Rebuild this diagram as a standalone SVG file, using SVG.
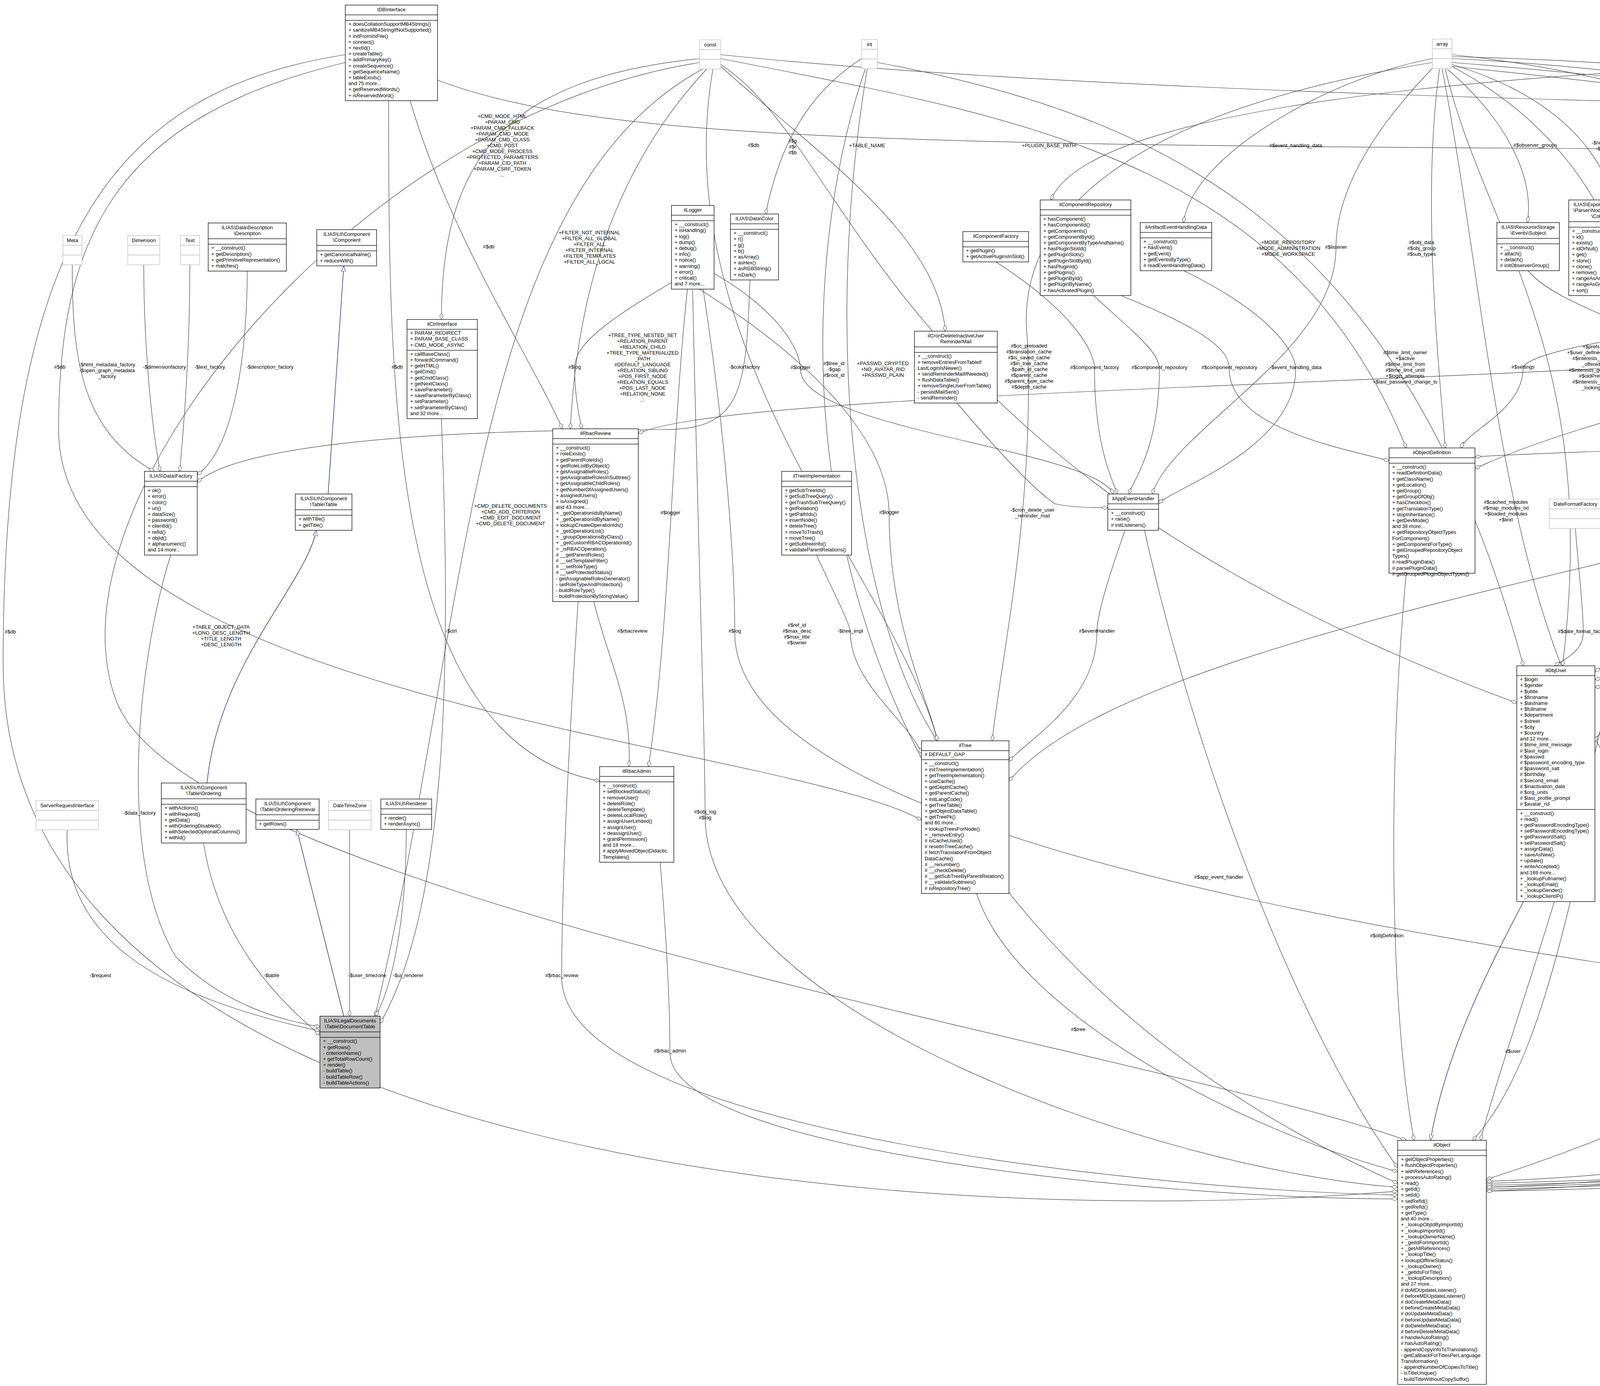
<svg xmlns="http://www.w3.org/2000/svg" width="7887" height="3549" viewBox="0 0 7887 3549">
<style>
text{font-family:"Liberation Sans",Arial,sans-serif;font-size:13px;fill:#000}
.t{text-anchor:middle}
.l{text-anchor:middle}
.b{fill:#fff;stroke:#000;stroke-width:1.3}
.g{fill:#fff;stroke:#bfbfbf;stroke-width:1.3}
.s{fill:none;stroke:#000;stroke-width:1.3}
.sg{fill:none;stroke:#bfbfbf;stroke-width:1.3}
.e{fill:none;stroke:#404040;stroke-width:1.2;marker-end:url(#dia)}
.i{fill:none;stroke:#191970;stroke-width:1.3;marker-end:url(#tri)}
</style>
<defs>
<marker id="dia" viewBox="0 0 16 10" refX="16" refY="5" markerWidth="16" markerHeight="10" markerUnits="userSpaceOnUse" orient="auto"><path d="M0,5 L8,0.5 L16,5 L8,9.5 Z" fill="#fff" stroke="#404040"/></marker>
<marker id="tri" viewBox="0 0 14 12" refX="14" refY="6" markerWidth="14" markerHeight="12" markerUnits="userSpaceOnUse" orient="auto"><path d="M0,0.5 L14,6 L0,11.5 Z" fill="#fff" stroke="#191970"/></marker>
</defs>
<rect width="7887" height="3549" fill="#fff"/>

<g id="edges">
<path class="e" d="M884,140 C300,230 8,600 8,1700 C8,3000 2400,3150 3578,3050"/>
<text x="12" y="1622">#$db</text>
<path class="e" d="M884,160 C300,300 150,600 150,1100 C150,1800 2000,1900 2359,2100"/>
<text class="l" x="153" y="944">#$db</text>
<path class="e" d="M1050,258 C1150,600 1350,900 1440,1098"/>
<text class="l" x="1251" y="636">#$db</text>
<path class="e" d="M995,258 C995,1000 995,1900 1535,2000"/>
<text class="l" x="1017" y="944">#$db</text>
<path class="e" d="M1120,205 C1500,350 2200,370 4000,380 C4600,385 4800,420 4850,505"/>
<text class="l" x="1929" y="376">#$db</text>

<path class="e" d="M1791,150 C1300,200 1130,400 1130,818"/>
<text class="l" x="1286" y="302"><tspan x="1286" dy="0">+CMD_MODE_HTML</tspan><tspan x="1286" dy="15">+PARAM_CMD</tspan><tspan x="1286" dy="15">+PARAM_CMD_FALLBACK</tspan><tspan x="1286" dy="15">+PARAM_CMD_MODE</tspan><tspan x="1286" dy="15">+PARAM_CMD_CLASS</tspan><tspan x="1286" dy="15">+CMD_POST</tspan><tspan x="1286" dy="15">+CMD_MODE_PROCESS</tspan><tspan x="1286" dy="15">+PROTECTED_PARAMETERS</tspan><tspan x="1286" dy="15">+PARAM_CID_PATH</tspan><tspan x="1286" dy="15">+PARAM_CSRF_TOKEN</tspan><tspan x="1286" dy="15">...</tspan></text>
<path class="e" d="M1810,176 C1600,400 1480,700 1460,1098"/>
<text class="l" x="1509" y="600"><tspan x="1509" dy="0">+FILTER_NOT_INTERNAL</tspan><tspan x="1509" dy="15">+FILTER_ALL_GLOBAL</tspan><tspan x="1509" dy="15">+FILTER_ALL</tspan><tspan x="1509" dy="15">+FILTER_INTERNAL</tspan><tspan x="1509" dy="15">+FILTER_TEMPLATES</tspan><tspan x="1509" dy="15">+FILTER_ALL_LOCAL</tspan></text>
<path class="e" d="M1825,176 C1700,900 2300,1500 2400,1897"/>
<text class="l" x="1645" y="863"><tspan x="1645" dy="0">+TREE_TYPE_NESTED_SET</tspan><tspan x="1645" dy="15">+RELATION_PARENT</tspan><tspan x="1645" dy="15">+RELATION_CHILD</tspan><tspan x="1645" dy="15">+TREE_TYPE_MATERIALIZED</tspan><tspan x="1645" dy="15">_PATH</tspan><tspan x="1645" dy="15">#DEFAULT_LANGUAGE</tspan><tspan x="1645" dy="15">+RELATION_SIBLING</tspan><tspan x="1645" dy="15">+POS_FIRST_NODE</tspan><tspan x="1645" dy="15">+RELATION_EQUALS</tspan><tspan x="1645" dy="15">+POS_LAST_NODE</tspan><tspan x="1645" dy="15">+RELATION_NONE</tspan><tspan x="1645" dy="15">...</tspan></text>
<path class="e" d="M1800,176 C1200,500 1200,1600 960,2602"/>
<text class="l" x="1307" y="1300"><tspan x="1307" dy="0">+CMD_DELETE_DOCUMENTS</tspan><tspan x="1307" dy="15">+CMD_ADD_CRITERION</tspan><tspan x="1307" dy="15">+CMD_EDIT_DOCUMENT</tspan><tspan x="1307" dy="15">+CMD_DELETE_DOCUMENT</tspan></text>
<path class="e" d="M1791,160 C900,300 100,1300 300,1800 C500,2300 3000,2700 3600,2920"/>
<text class="l" x="566" y="1610"><tspan x="566" dy="0">+TABLE_OBJECT_DATA</tspan><tspan x="566" dy="15">+LONG_DESC_LENGTH</tspan><tspan x="566" dy="15">+TITLE_LENGTH</tspan><tspan x="566" dy="15">+DESC_LENGTH</tspan></text>
<path class="e" d="M1845,165 C2200,400 2250,1200 3883,1800"/>
<text class="l" x="2260" y="935"><tspan x="2260" dy="0">+PASSWD_CRYPTED</tspan><tspan x="2260" dy="15">+NO_AVATAR_RID</tspan><tspan x="2260" dy="15">+PASSWD_PLAIN</tspan></text>
<path class="e" d="M1845,150 C2600,300 3300,400 3600,1147"/>
<text class="l" x="3298" y="625"><tspan x="3298" dy="0">+MODE_REPOSITORY</tspan><tspan x="3298" dy="15">+MODE_ADMINISTRATION</tspan><tspan x="3298" dy="15">+MODE_WORKSPACE</tspan></text>
<path class="e" d="M1845,140 C3000,260 5000,270 5700,300 C6100,320 6200,400 6230,482"/>
<text class="l" x="5792" y="365"><tspan x="5792" dy="0">+$MESSAGE</tspan><tspan x="5792" dy="15">+$FATAL</tspan><tspan x="5792" dy="15">+$WARNING</tspan></text>
<path class="e" d="M1845,170 C2100,400 2400,600 2420,848"/>
<text class="l" x="2220" y="377">+TABLE_NAME</text>

<path class="e" d="M2206,150 C2050,250 1990,400 1960,548"/>
<text class="l" x="2029" y="365"><tspan x="2029" dy="0">#$g</tspan><tspan x="2029" dy="15">#$r</tspan><tspan x="2029" dy="15">#$b</tspan></text>
<path class="e" d="M2220,177 C2100,900 2200,1600 2400,1897"/>
<text class="l" x="2135" y="935"><tspan x="2135" dy="0">#$tree_id</tspan><tspan x="2135" dy="15">-$gap</tspan><tspan x="2135" dy="15">#$root_id</tspan></text>
<path class="e" d="M2215,177 C2000,800 1950,2300 3578,3030"/>
<text class="l" x="2040" y="1605"><tspan x="2040" dy="0">#$ref_id</tspan><tspan x="2040" dy="15">#$max_desc</tspan><tspan x="2040" dy="15">#$max_title</tspan><tspan x="2040" dy="15">#$owner</tspan></text>
<path class="e" d="M2246,160 C3000,300 3600,600 3900,1705"/>
<text class="l" x="3597" y="907"><tspan x="3597" dy="0">#$time_limit_owner</tspan><tspan x="3597" dy="15">+$active</tspan><tspan x="3597" dy="15">#$time_limit_from</tspan><tspan x="3597" dy="15">#$time_limit_until</tspan><tspan x="3597" dy="15">+$login_attempts</tspan><tspan x="3597" dy="15">+$last_password_change_ts</tspan></text>

<path class="e" d="M5828,130 C4000,150 2800,250 2690,512"/>
<text class="l" x="2685" y="377">+PLUGIN_BASE_PATH</text>

<path class="e" d="M3667,150 C3400,200 3050,400 3030,570"/>
<text class="l" x="3317" y="377">#$event_handling_data</text>
<path class="e" d="M3685,177 C3640,500 3680,900 3700,1147"/>
<text class="l" x="3639" y="625"><tspan x="3639" dy="0">#$obj_data</tspan><tspan x="3639" dy="15">#$obj_group</tspan><tspan x="3639" dy="15">#$sub_types</tspan></text>
<path class="e" d="M3705,177 C3850,300 3930,450 3910,570"/>
<text class="l" x="3930" y="376">#$observer_groups</text>
<path class="e" d="M3717,165 C4000,250 4100,400 4130,512"/>
<text class="l" x="4109" y="370"><tspan x="4109" dy="0">-$rid_cache</tspan><tspan x="4109" dy="15">-$cache</tspan></text>
<path class="e" d="M3717,140 C4300,200 4700,400 4860,505"/>
<text class="l" x="4808" y="376">+$setting</text>
<path class="e" d="M3667,160 C2800,300 2600,600 2630,870 C2650,1300 2560,1700 2540,1897"/>
<text class="l" x="2634" y="890"><tspan x="2634" dy="0">#$oc_preloaded</tspan><tspan x="2634" dy="15">#$translation_cache</tspan><tspan x="2634" dy="15">#$is_saved_cache</tspan><tspan x="2634" dy="15">#$in_tree_cache</tspan><tspan x="2634" dy="15">-$path_id_cache</tspan><tspan x="2634" dy="15">#$parent_cache</tspan><tspan x="2634" dy="15">#$parent_type_cache</tspan><tspan x="2634" dy="15">#$depth_cache</tspan></text>
<path class="e" d="M3700,177 C3800,600 4100,900 4000,1705"/>
<text class="l" x="4073" y="892"><tspan x="4073" dy="0">+$prefs</tspan><tspan x="4073" dy="15">+$user_defined_data</tspan><tspan x="4073" dy="15">#$interests_help</tspan><tspan x="4073" dy="15">_offered</tspan><tspan x="4073" dy="15">#$interests_general</tspan><tspan x="4073" dy="15">#$oldPrefs</tspan><tspan x="4073" dy="15">#$interests_help</tspan><tspan x="4073" dy="15">_looking</tspan></text>
<path class="e" d="M3692,177 C3850,1000 3850,2000 4500,2300 C5200,2600 5800,2650 6064,2650"/>
<text class="l" x="3855" y="1290"><tspan x="3855" dy="0">#$cached_modules</tspan><tspan x="3855" dy="15">#$map_modules_txt</tspan><tspan x="3855" dy="15">+$loaded_modules</tspan><tspan x="3855" dy="15">+$text</tspan></text>
<path class="e" d="M5828,150 C5600,250 5000,300 4990,520"/>
<text class="l" x="5604" y="370"><tspan x="5604" dy="0">-$settings_cache</tspan><tspan x="5604" dy="15">-$value_type</tspan></text>
<path class="e" d="M5835,177 C5200,300 5000,350 4960,505"/>
<text class="l" x="4993" y="376">+$module</text>
<path class="e" d="M3717,170 C5000,300 5700,450 5718,700 C5720,1000 2000,950 1634,1110"/>
<text class="l" x="5718" y="630"><tspan x="5718" dy="0">#$is_assigned_cache</tspan><tspan x="5718" dy="15">-$_opsCache</tspan><tspan x="5718" dy="15">#$assigned_users_cache</tspan></text>
<path class="e" d="M3717,160 C5500,300 6060,600 6068,945 C6075,1300 4500,1700 4083,1760"/>
<text class="l" x="6068" y="945">#$personal_image_cache</text>
<path class="e" d="M3717,150 C5800,250 6300,1200 6343,1621 C6360,1800 6400,1900 6420,1941"/>
<text class="l" x="6343" y="1621">#$language_cache</text>
<path class="e" d="M3717,145 C6000,200 6500,900 6521,1305 C6540,1900 6300,2300 6230,2533"/>
<text class="l" x="6521" y="1295"><tspan x="6521" dy="0">#$lng_log</tspan><tspan x="6521" dy="15">#$used_modules</tspan><tspan x="6521" dy="15">#$used_topics</tspan></text>
<path class="e" d="M3717,170 C4150,400 4200,800 4203,944 C4210,1800 3900,2500 3790,2920"/>
<text class="l" x="4203" y="944">#$translations</text>
<path class="e" d="M3667,175 C3450,400 3420,550 3420,637 C3420,900 3000,1100 2950,1265"/>
<text class="l" x="3420" y="637">#$listener</text>

<path class="e" d="M5828,140 C5300,200 5285,300 5285,377 C5285,460 6000,470 6215,560"/>
<text class="l" x="5285" y="370"><tspan x="5285" dy="0">-SENSITIVE_PARAMETER</tspan><tspan x="5285" dy="15">_NAMES</tspan></text>
<path class="e" d="M5862,160 C6100,250 6206,330 6235,482"/>
<text class="l" x="6206" y="377">#$message</text>
<path class="e" d="M5828,160 C5200,300 5100,500 5098,637 C5095,900 4200,1000 3776,1200"/>
<text class="l" x="5098" y="625"><tspan x="5098" dy="0">#$parent_tag_name</tspan><tspan x="5098" dy="15">#$current_tag_name</tspan><tspan x="5098" dy="15">#$current_tag</tspan><tspan x="5098" dy="15">#$root_trans_type</tspan></text>
<path class="e" d="M5850,177 C6000,400 6022,550 6022,637 C6020,900 6000,1100 6000,1198"/>
<text class="l" x="6022" y="630"><tspan x="6022" dy="0">+$INI_FILE</tspan><tspan x="6022" dy="15">+$client_id</tspan></text>
<path class="e" d="M5835,177 C5600,500 5571,750 5571,880 C5570,1300 3000,1500 2583,2000"/>
<text class="l" x="5571" y="890"><tspan x="5571" dy="0">#$table_obj_data</tspan><tspan x="5571" dy="15">#$tree_pk</tspan><tspan x="5571" dy="15">#$table_obj_reference</tspan><tspan x="5571" dy="15">-$lang_code</tspan><tspan x="5571" dy="15">#$obj_pk</tspan><tspan x="5571" dy="15">#$ref_pk</tspan><tspan x="5571" dy="15">#$table_tree</tspan></text>
<path class="e" d="M5840,177 C5720,500 5718,700 5718,830 C5720,1200 4400,1500 4083,1720"/>
<text class="l" x="5718" y="870"><tspan x="5718" dy="0">#$ext_account</tspan><tspan x="5718" dy="15">+$email</tspan><tspan x="5718" dy="15">+$phone_office</tspan><tspan x="5718" dy="15">+$institution</tspan><tspan x="5718" dy="15">#$first_login</tspan><tspan x="5718" dy="15">+$longitude</tspan><tspan x="5718" dy="15">+$hobby</tspan><tspan x="5718" dy="15">+$zipcode</tspan><tspan x="5718" dy="15">#$passwd_type</tspan><tspan x="5718" dy="15">+$referral_comment</tspan><tspan x="5718" dy="15">...</tspan></text>
<path class="e" d="M5855,177 C6150,500 6213,800 6213,945 C6213,1400 6420,1700 6440,1941"/>
<text class="l" x="6213" y="945">#$language_key</text>
<path class="e" d="M5862,170 C6200,600 6260,1000 6260,1260 C6260,1900 6180,2300 6160,2533"/>
<text class="l" x="6260" y="1262"><tspan x="6260" dy="0">+$lang_name</tspan><tspan x="6260" dy="15">+$lang_user</tspan><tspan x="6260" dy="15">+$lang_path</tspan><tspan x="6260" dy="15">#$cust_lang_path</tspan><tspan x="6260" dy="15">+$separator</tspan><tspan x="6260" dy="15">+$comment_separator</tspan><tspan x="6260" dy="15">+$lang_key</tspan><tspan x="6260" dy="15">+$lang_default</tspan></text>
<path class="e" d="M5845,177 C5700,800 5663,1300 5663,1600 C5663,2200 4500,2800 3805,3020"/>
<text class="l" x="5663" y="1570"><tspan x="5663" dy="0">#$create_date</tspan><tspan x="5663" dy="15">#$desc</tspan><tspan x="5663" dy="15">#$title</tspan><tspan x="5663" dy="15">#$long_desc</tspan><tspan x="5663" dy="15">#$import_id</tspan><tspan x="5663" dy="15">+$untranslated_title</tspan><tspan x="5663" dy="15">#$type</tspan><tspan x="5663" dy="15">#$last_update</tspan></text>

<path class="e" d="M6207,170 C6700,400 6758,700 6758,945 C6758,1400 6600,1800 6540,1960"/>
<text class="l" x="6758" y="945">#$instances</text>
<path class="e" d="M6782,170 C6300,250 6053,300 6053,377 C6053,460 5200,480 4993,520"/>
<text class="l" x="6053" y="377">#$cache_disabled</text>
<path class="e" d="M6468,177 C6480,300 6450,420 6421,520"/>
<text class="l" x="6506" y="377">#$whoops</text>
<path class="e" d="M6782,165 C6500,250 6380,330 6370,482"/>
<text class="l" x="6368" y="377">#$whoops_handlers_registered</text>
<path class="e" d="M6790,177 C6700,300 6500,450 6421,500"/>
<text class="l" x="6672" y="377">#$DEBUG_ENV</text>
<path class="e" d="M6800,177 C6650,600 6629,800 6629,945 C6629,1400 4500,1650 4083,1740"/>
<text class="l" x="6629" y="930"><tspan x="6629" dy="0">#$profile_incomplete</tspan><tspan x="6629" dy="15">#$passwd_policy_reset</tspan><tspan x="6629" dy="15">#$time_limit_unlimited</tspan><tspan x="6629" dy="15">-$is_self_registered</tspan></text>
<path class="e" d="M6790,177 C6500,600 6458,800 6458,945 C6458,1100 4000,1150 3776,1170"/>
<text class="l" x="6458" y="945">#$use_cache</text>
<path class="e" d="M6815,177 C6850,500 6859,800 6859,945 C6859,1600 6600,1900 6540,2000"/>
<text class="l" x="6859" y="945">#$loaded</text>
<path class="e" d="M6827,177 C6950,700 6970,1100 6970,1316 C6970,2000 6500,2500 6245,2700"/>
<text class="l" x="6970" y="1316">#$usage_log_enabled</text>
<path class="e" d="M6827,165 C7150,700 7181,1300 7181,1620 C7181,2600 5000,3000 3805,3040"/>
<text class="l" x="7181" y="1600"><tspan x="7181" dy="0">#$register</tspan><tspan x="7181" dy="15">#$call_by_reference</tspan><tspan x="7181" dy="15">-$process_auto_rating</tspan><tspan x="7181" dy="15">#$add_dots</tspan></text>

<path class="e" d="M4850,765 C4200,850 3900,900 3899,944 C3898,1050 3760,1100 3740,1147"/>
<text class="l" x="3899" y="944">#$settings</text>
<path class="e" d="M4993,700 C5700,750 5876,850 5876,945 C5876,1100 5960,1150 5980,1198"/>
<text class="l" x="5876" y="945">#$setting</text>
<path class="e" d="M6320,788 C6330,850 6333,900 6333,945 C6333,1050 6100,1150 6092,1250"/>
<text class="l" x="6333" y="945">#$error</text>
<path class="e" d="M6421,700 C6900,900 7016,1500 7016,2087 C7016,2700 5000,3000 3805,3050"/>
<text class="l" x="7016" y="2087">#$error</text>

<path class="e" d="M3912,693 C4000,800 4305,850 4305,944 C4305,1100 4460,1200 4470,1220"/>
<text class="l" x="4305" y="944">#$events</text>
<path class="e" d="M4107,757 C4300,850 4402,880 4402,944 C4402,1100 4480,1200 4485,1220"/>
<text class="l" x="4402" y="944">#$collections</text>
<path class="e" d="M4303,740 C4480,800 4518,880 4518,944 C4518,1100 4520,1200 4520,1220"/>
<text class="l" x="4518" y="944">#$consumers</text>
<path class="e" d="M4489,678 C4600,800 4611,880 4611,944 C4611,1100 4570,1200 4560,1220"/>
<text class="l" x="4611" y="944">#$manager</text>
<path class="e" d="M4703,717 C4740,800 4758,880 4758,944 C4758,1100 4620,1200 4600,1220"/>
<text class="l" x="4758" y="944">#$container_manager</text>
<path class="e" d="M5285,670 C5200,780 5170,880 5170,944 C5170,1150 4700,1250 4615,1260"/>
<text class="l" x="5170" y="944">#$preloader</text>
<path class="e" d="M5490,711 C5440,800 5429,880 5429,945 C5429,1200 4700,1300 4615,1290"/>
<text class="l" x="5429" y="945">#$flavours</text>
<path class="e" d="M4480,1404 C4420,1500 4376,1560 4376,1621 C4376,1700 4120,1800 4083,1900"/>
<text class="l" x="4376" y="1621">-$irss</text>
<path class="e" d="M4033,1353 C4040,1450 4053,1550 4053,1621 C4053,1670 4000,1690 3980,1705"/>
<text class="l" x="4053" y="1621">#$date_format_factory</text>

<path class="e" d="M185,678 C185,900 200,1100 395,1207"/>
<text class="l" x="274" y="938"><tspan x="274" dy="0">-$html_metadata_factory</tspan><tspan x="274" dy="15">-$open_graph_metadata</tspan><tspan x="274" dy="15">_factory</tspan></text>
<path class="e" d="M368,678 C368,900 390,1100 410,1207"/>
<text class="l" x="421" y="944">-$dimensionfactory</text>
<path class="e" d="M486,678 C486,900 470,1100 460,1207"/>
<text class="l" x="537" y="944">-$text_factory</text>
<path class="e" d="M633,694 C633,900 600,1150 505,1215"/>
<text class="l" x="691" y="944">-$description_factory</text>
<path class="e" d="M1920,717 C1910,1000 1900,1100 1700,1100 C1000,1100 600,1150 505,1235"/>
<text class="l" x="1906" y="944">-$colorfactory</text>

<path class="e" d="M172,2125 C160,2400 400,2550 819,2640"/>
<text class="l" x="257" y="2502">-$request</text>
<path class="e" d="M521,2159 C560,2400 700,2550 819,2650"/>
<text class="l" x="695" y="2502">-$table</text>
<path class="e" d="M895,2125 L895,2602"/>
<text class="l" x="940" y="2502">-$user_timezone</text>
<path class="e" d="M1040,2124 C1040,2400 990,2560 960,2602"/>
<text class="l" x="1045" y="2502">-$ui_renderer</text>
<path class="e" d="M437,1421 C350,1700 300,2200 450,2450 C600,2600 780,2620 819,2630"/>
<text class="l" x="357" y="2086">-$data_factory</text>
<path class="e" d="M1130,1072 C1150,1600 1160,2300 973,2620"/>
<text class="l" x="1155" y="1620">-$ctrl</text>

<path class="e" d="M1520,1540 C1560,1700 1619,1800 1610,1963"/>
<text class="l" x="1619" y="1620">#$rbacreview</text>
<path class="e" d="M1760,740 C1720,1100 1716,1600 1660,1963"/>
<text class="l" x="1716" y="1317">#$logger</text>
<path class="e" d="M1725,720 C1500,850 1471,900 1471,944 C1471,1000 1480,1060 1490,1098"/>
<text class="l" x="1471" y="944">#$log</text>
<path class="e" d="M1790,740 C2200,1000 2276,1200 2276,1316 C2276,1600 2380,1800 2400,1897"/>
<text class="l" x="2276" y="1316">#$logger</text>
<path class="e" d="M1828,700 C2000,800 2049,900 2049,945 C2049,1100 2800,1150 2850,1265"/>
<text class="l" x="2049" y="945">#$logger</text>
<path class="e" d="M1773,740 C1790,1500 1805,1900 1805,2089 C1805,2600 3000,3000 3578,3040"/>
<text class="l" x="1805" y="2083"><tspan x="1805" dy="0">#$obj_log</tspan><tspan x="1805" dy="15">#$log</tspan></text>
<path class="e" d="M1800,740 C1870,1200 1881,1500 1881,1620 C1881,2200 4000,2500 6064,2700"/>
<text class="l" x="1881" y="1620">#$log</text>
<path class="e" d="M2090,1421 C2150,1550 2177,1600 2177,1620 C2177,1750 2330,1850 2359,1930"/>
<text class="l" x="2177" y="1620">-$tree_impl</text>
<path class="e" d="M2880,1358 C2830,1500 2808,1580 2808,1620 C2808,1800 2620,1900 2583,1950"/>
<text class="l" x="2808" y="1620">#$eventHandler</text>
<path class="e" d="M2450,1032 C2550,1150 2643,1250 2700,1290 C2750,1300 2800,1300 2836,1300"/>
<text class="l" x="2643" y="1310"><tspan x="2643" dy="0">-$cron_delete_user</tspan><tspan x="2643" dy="15">_reminder_mail</tspan></text>
<path class="e" d="M2550,671 C2750,800 2802,900 2802,945 C2802,1150 2850,1230 2860,1265"/>
<text class="l" x="2802" y="945">#$component_factory</text>
<path class="e" d="M2800,757 C2900,850 2968,900 2968,945 C2968,1150 2900,1230 2890,1265"/>
<text class="l" x="2968" y="945">#$component_repository</text>
<path class="e" d="M2870,757 C3100,850 3147,900 3147,945 C3147,1100 3450,1150 3556,1180"/>
<text class="l" x="3147" y="945">#$component_repository</text>
<path class="e" d="M3030,693 C3250,800 3317,900 3317,945 C3317,1150 3000,1250 2966,1290"/>
<text class="l" x="3317" y="945">-$event_handling_data</text>

<path class="e" d="M1480,1540 C1450,2000 1438,2300 1438,2502 C1438,2900 3000,3050 3578,3060"/>
<text class="l" x="1438" y="2502">#$rbac_review</text>
<path class="e" d="M1690,2208 C1710,2450 1715,2600 1715,2695 C1715,2950 3000,3070 3578,3070"/>
<text class="l" x="1715" y="2695">#$rbac_admin</text>
<path class="e" d="M2500,2288 C2600,2600 3200,2900 3578,3000"/>
<text class="l" x="2760" y="2640">#$tree</text>
<path class="e" d="M2930,1358 C3050,1900 3300,2600 3578,2990"/>
<text class="l" x="3120" y="2250">#$app_event_handler</text>
<path class="e" d="M3600,1468 C3550,2000 3560,2600 3620,2920"/>
<text class="l" x="3550" y="2400">#$objDefinition</text>
<path class="e" d="M4020,2309 C3950,2600 3880,2800 3770,2920"/>
<text class="l" x="3873" y="2696">#$user</text>
<path class="e" d="M6064,2820 C5900,2900 5000,3000 3805,3030"/>
<text class="l" x="5940" y="2892">#$lng</text>
<path class="e" d="M5960,1437 C5910,1800 5910,2300 5910,2502 C5910,2800 4500,3000 3805,3025"/>
<text class="l" x="5910" y="2502">#$ilias</text>
<path class="e" d="M6060,1437 C6150,1700 6183,1950 6183,2088 C6183,2300 6170,2450 6160,2533"/>
<text class="l" x="6183" y="2088">+$ilias</text>
<path class="e" d="M6440,2231 C6380,2350 6364,2450 6364,2502 C6364,2530 6300,2580 6245,2600"/>
<text class="l" x="6364" y="2502">#$global_cache</text>
<path class="e" d="M7540,2823 C7500,2880 7462,2892 7400,2900 C6000,2950 4500,3030 3805,3045"/>
<text class="l" x="7462" y="2892">-$object_properties</text>
<path class="e" d="M7780,2746 C7750,2850 7700,2890 7600,2900 C6000,2960 4500,3040 3805,3050"/>
<text class="l" x="7695" y="2892">-$properties_aggregator</text>
<path class="e" d="M7200,2735 C7200,2850 7150,2890 7000,2900 C6000,2940 4500,3020 3805,3035"/>
<text class="l" x="7180" y="2892">-$translations_repository</text>
<path class="e" d="M7350,2735 C7340,2850 7300,2890 7200,2900 C6000,2945 4500,3025 3805,3040"/>
<text class="l" x="7340" y="2892">#$lom_services</text>

<path class="i" d="M4489,585 L4540,265"/>
<path class="i" d="M4680,548 L4610,265"/>
<path class="i" d="M4915,505 L4915,226"/>
<path class="i" d="M840,1265 L880,681"/>
<path class="i" d="M530,2005 C560,1700 780,1500 810,1358"/>
<path class="i" d="M880,2602 L760,2124"/>
<path class="i" d="M6500,1941 L6720,1359"/>
<path class="i" d="M6120,2533 L6030,2135"/>
<path class="i" d="M3900,2309 C3800,2500 3700,2700 3662,2920"/>
</g>

<g id="n_IDBInterface"><rect class="b" x="884" y="13" width="236" height="244.8"/><path class="s" d="M884,38.2 h236 M884,52.2 h236"/><text class="t" x="1002" y="29">IDBInterface</text><text x="892" y="66.2"><tspan x="892" dy="0">+ doesCollationSupportMB4Strings()</tspan><tspan x="892" dy="15.2">+ sanitizeMB4StringIfNotSupported()</tspan><tspan x="892" dy="15.2">+ initFromIniFile()</tspan><tspan x="892" dy="15.2">+ connect()</tspan><tspan x="892" dy="15.2">+ nextId()</tspan><tspan x="892" dy="15.2">+ createTable()</tspan><tspan x="892" dy="15.2">+ addPrimaryKey()</tspan><tspan x="892" dy="15.2">+ createSequence()</tspan><tspan x="892" dy="15.2">+ getSequenceName()</tspan><tspan x="892" dy="15.2">+ tableExists()</tspan><tspan x="892" dy="15.2">and 75 more...</tspan><tspan x="892" dy="15.2">+ getReservedWords()</tspan><tspan x="892" dy="15.2">+ isReservedWord()</tspan></text></g>

<g id="n_const"><rect class="g" x="1791" y="102" width="54" height="75"/><path class="sg" d="M1791,127 h54 M1791,152 h54"/><text class="t" x="1818" y="119">const</text></g>
<g id="n_int"><rect class="g" x="2206" y="101" width="40" height="75"/><path class="sg" d="M2206,126 h40 M2206,151 h40"/><text class="t" x="2226" y="118">int</text></g>
<g id="n_array"><rect class="g" x="3667" y="100" width="50" height="75"/><path class="sg" d="M3667,125 h50 M3667,150 h50"/><text class="t" x="3692" y="117">array</text></g>
<g id="n_string"><rect class="g" x="5828" y="102" width="34" height="75"/><path class="sg" d="M5828,127 h34 M5828,152 h34"/><text class="t" x="5845" y="119">string</text></g>
<g id="n_static"><rect class="g" x="6173" y="102" width="34" height="75"/><path class="sg" d="M6173,127 h34 M6173,152 h34"/><text class="t" x="6190" y="119">static</text></g>
<g id="n_RunInterface"><rect class="g" x="6440" y="102" width="57" height="75"/><path class="sg" d="M6440,127 h57 M6440,152 h57"/><text class="t" x="6468.5" y="119">RunInterface</text></g>
<g id="n_bool"><rect class="g" x="6782" y="102" width="45" height="75"/><path class="sg" d="M6782,127 h45 M6782,152 h45"/><text class="t" x="6804.5" y="119">bool</text></g>
<g id="n_Meta"><rect class="g" x="161" y="603" width="49" height="75"/><path class="sg" d="M161,628 h49 M161,653 h49"/><text class="t" x="185.5" y="620">Meta</text></g>
<g id="n_Dimension"><rect class="g" x="327" y="603" width="82" height="75"/><path class="sg" d="M327,628 h82 M327,653 h82"/><text class="t" x="368" y="620">Dimension</text></g>
<g id="n_Text"><rect class="g" x="462" y="603" width="49" height="75"/><path class="sg" d="M462,628 h49 M462,653 h49"/><text class="t" x="486.5" y="620">Text</text></g>
<g id="n_DateTimeZone"><rect class="g" x="841" y="2050" width="109" height="75"/><path class="sg" d="M841,2075 h109 M841,2100 h109"/><text class="t" x="895.5" y="2067">DateTimeZone</text></g>
<g id="n_ServerRequestInterface"><rect class="g" x="92" y="2050" width="160" height="75"/><path class="sg" d="M92,2075 h160 M92,2100 h160"/><text class="t" x="172" y="2067">ServerRequestInterface</text></g>
<g id="n_DateFormatFactory"><rect class="g" x="3966" y="1278" width="134" height="75"/><path class="sg" d="M3966,1303 h134 M3966,1328 h134"/><text class="t" x="4033" y="1295">DateFormatFactory</text></g>
<g id="n_TranslationsRepository"><rect class="g" x="7123" y="2660" width="157" height="75"/><path class="sg" d="M7123,2685 h157 M7123,2710 h157"/><text class="t" x="7201.5" y="2677">TranslationsRepository</text></g>
<g id="n_LOMServices"><rect class="g" x="7303" y="2660" width="100" height="75"/><path class="sg" d="M7303,2685 h100 M7303,2710 h100"/><text class="t" x="7353" y="2677">LOMServices</text></g>

<g id="n_BaseManager"><rect class="b" x="4456" y="5" width="234" height="260"/><path class="s" d="M4456,45.4 h234 M4456,59.4 h234"/><text class="t" x="4573" y="21"><tspan x="4573" dy="0">ILIAS\ResourceStorage</tspan><tspan x="4573" dy="15.2">\Manager\BaseManager</tspan></text><text x="4464" y="73.4"><tspan x="4464" dy="0">+ __construct()</tspan><tspan x="4464" dy="15.2">+ publish()</tspan><tspan x="4464" dy="15.2">+ unpublish()</tspan><tspan x="4464" dy="15.2">+ find()</tspan><tspan x="4464" dy="15.2">+ getResource()</tspan><tspan x="4464" dy="15.2">+ remove()</tspan><tspan x="4464" dy="15.2">+ clone()</tspan><tspan x="4464" dy="15.2">+ appendNewRevision()</tspan><tspan x="4464" dy="15.2">+ replaceWithUpload()</tspan><tspan x="4464" dy="15.2">+ appendNewRevisionFromStream()</tspan><tspan x="4464" dy="15.2">and 6 more...</tspan><tspan x="4464" dy="15.2"># checkZIP()</tspan><tspan x="4464" dy="15.2"># newStreamBased()</tspan></text></g>

<g id="n_AdminSetting"><rect class="b" x="4844" y="42" width="144" height="184"/><path class="s" d="M4844,82.4 h144 M4844,96.4 h144"/><text class="t" x="4916" y="58"><tspan x="4916" dy="0">ILIAS\Administration</tspan><tspan x="4916" dy="15.2">\Setting</tspan></text><text x="4852" y="110.4"><tspan x="4852" dy="0">+ getModule()</tspan><tspan x="4852" dy="15.2">+ read()</tspan><tspan x="4852" dy="15.2">+ get()</tspan><tspan x="4852" dy="15.2">+ deleteAll()</tspan><tspan x="4852" dy="15.2">+ delete()</tspan><tspan x="4852" dy="15.2">+ getAll()</tspan><tspan x="4852" dy="15.2">+ set()</tspan><tspan x="4852" dy="15.2">+ _lookupValue()</tspan></text></g>

<g id="n_Description"><rect class="b" x="533" y="571" width="200" height="123.2"/><path class="s" d="M533,611.4 h200 M533,625.4 h200"/><text class="t" x="633" y="587"><tspan x="633" dy="0">ILIAS\Data\Description</tspan><tspan x="633" dy="15.2">\Description</tspan></text><text x="541" y="639.4"><tspan x="541" dy="0">+ __construct()</tspan><tspan x="541" dy="15.2">+ getDescription()</tspan><tspan x="541" dy="15.2">+ getPrimitiveRepresentation()</tspan><tspan x="541" dy="15.2">+ matches()</tspan></text></g>

<g id="n_UIComponent"><rect class="b" x="811" y="588" width="153" height="92.8"/><path class="s" d="M811,628.4 h153 M811,642.4 h153"/><text class="t" x="887.5" y="604"><tspan x="887.5" dy="0">ILIAS\UI\Component</tspan><tspan x="887.5" dy="15.2">\Component</tspan></text><text x="819" y="656.4"><tspan x="819" dy="0">+ getCanonicalName()</tspan><tspan x="819" dy="15.2">+ reduceWith()</tspan></text></g>

<g id="n_ilLogger"><rect class="b" x="1719" y="526" width="109" height="214.4"/><path class="s" d="M1719,551.2 h109 M1719,565.2 h109"/><text class="t" x="1773.5" y="542">ilLogger</text><text x="1727" y="579.2"><tspan x="1727" dy="0">+ __construct()</tspan><tspan x="1727" dy="15.2">+ isHandling()</tspan><tspan x="1727" dy="15.2">+ log()</tspan><tspan x="1727" dy="15.2">+ dump()</tspan><tspan x="1727" dy="15.2">+ debug()</tspan><tspan x="1727" dy="15.2">+ info()</tspan><tspan x="1727" dy="15.2">+ notice()</tspan><tspan x="1727" dy="15.2">+ warning()</tspan><tspan x="1727" dy="15.2">+ error()</tspan><tspan x="1727" dy="15.2">+ critical()</tspan><tspan x="1727" dy="15.2">and 7 more...</tspan></text></g>

<g id="n_Color"><rect class="b" x="1870" y="548" width="123" height="168.8"/><path class="s" d="M1870,573.2 h123 M1870,587.2 h123"/><text class="t" x="1931.5" y="564">ILIAS\Data\Color</text><text x="1878" y="601.2"><tspan x="1878" dy="0">+ __construct()</tspan><tspan x="1878" dy="15.2">+ r()</tspan><tspan x="1878" dy="15.2">+ g()</tspan><tspan x="1878" dy="15.2">+ b()</tspan><tspan x="1878" dy="15.2">+ asArray()</tspan><tspan x="1878" dy="15.2">+ asHex()</tspan><tspan x="1878" dy="15.2">+ asRGBString()</tspan><tspan x="1878" dy="15.2">+ isDark()</tspan></text></g>

<g id="n_ilCtrlInterface"><rect class="b" x="1042" y="818" width="180" height="254"/><path class="s" d="M1042,843.2 h180 M1042,896.8 h180"/><text class="t" x="1132" y="834">ilCtrlInterface</text><text x="1050" y="857.2"><tspan x="1050" dy="0">+ PARAM_REDIRECT</tspan><tspan x="1050" dy="15.2">+ PARAM_BASE_CLASS</tspan><tspan x="1050" dy="15.2">+ CMD_MODE_ASYNC</tspan></text><text x="1050" y="910.8"><tspan x="1050" dy="0">+ callBaseClass()</tspan><tspan x="1050" dy="15.2">+ forwardCommand()</tspan><tspan x="1050" dy="15.2">+ getHTML()</tspan><tspan x="1050" dy="15.2">+ getCmd()</tspan><tspan x="1050" dy="15.2">+ getCmdClass()</tspan><tspan x="1050" dy="15.2">+ getNextClass()</tspan><tspan x="1050" dy="15.2">+ saveParameter()</tspan><tspan x="1050" dy="15.2">+ saveParameterByClass()</tspan><tspan x="1050" dy="15.2">+ setParameter()</tspan><tspan x="1050" dy="15.2">+ setParameterByClass()</tspan><tspan x="1050" dy="15.2">and 32 more...</tspan></text></g>

<g id="n_ilRbacReview"><rect class="b" x="1415" y="1098" width="219" height="442.4"/><path class="s" d="M1415,1123.2 h219 M1415,1137.2 h219"/><text class="t" x="1524.5" y="1114">ilRbacReview</text><text x="1423" y="1151.2"><tspan x="1423" dy="0">+ __construct()</tspan><tspan x="1423" dy="15.2">+ roleExists()</tspan><tspan x="1423" dy="15.2">+ getParentRoleIds()</tspan><tspan x="1423" dy="15.2">+ getRoleListByObject()</tspan><tspan x="1423" dy="15.2">+ getAssignableRoles()</tspan><tspan x="1423" dy="15.2">+ getAssignableRolesInSubtree()</tspan><tspan x="1423" dy="15.2">+ getAssignableChildRoles()</tspan><tspan x="1423" dy="15.2">+ getNumberOfAssignedUsers()</tspan><tspan x="1423" dy="15.2">+ assignedUsers()</tspan><tspan x="1423" dy="15.2">+ isAssigned()</tspan><tspan x="1423" dy="15.2">and 43 more...</tspan><tspan x="1423" dy="15.2">+ _getOperationIdsByName()</tspan><tspan x="1423" dy="15.2">+ _getOperationIdByName()</tspan><tspan x="1423" dy="15.2">+ lookupCreateOperationIds()</tspan><tspan x="1423" dy="15.2">+ _getOperationList()</tspan><tspan x="1423" dy="15.2">+ _groupOperationsByClass()</tspan><tspan x="1423" dy="15.2">+ _getCustomRBACOperationId()</tspan><tspan x="1423" dy="15.2">+ _isRBACOperation()</tspan><tspan x="1423" dy="15.2"># __getParentRoles()</tspan><tspan x="1423" dy="15.2"># __setTemplateFilter()</tspan><tspan x="1423" dy="15.2"># __setRoleType()</tspan><tspan x="1423" dy="15.2"># __setProtectedStatus()</tspan><tspan x="1423" dy="15.2">- getAssignableRolesGenerator()</tspan><tspan x="1423" dy="15.2">- setRoleTypeAndProtection()</tspan><tspan x="1423" dy="15.2">- buildRoleType()</tspan><tspan x="1423" dy="15.2">- buildProtectionByStringValue()</tspan></text></g>

<g id="n_DataFactory"><rect class="b" x="370" y="1207" width="135" height="214.4"/><path class="s" d="M370,1232.2 h135 M370,1246.2 h135"/><text class="t" x="437.5" y="1223">ILIAS\Data\Factory</text><text x="378" y="1260.2"><tspan x="378" dy="0">+ ok()</tspan><tspan x="378" dy="15.2">+ error()</tspan><tspan x="378" dy="15.2">+ color()</tspan><tspan x="378" dy="15.2">+ uri()</tspan><tspan x="378" dy="15.2">+ dataSize()</tspan><tspan x="378" dy="15.2">+ password()</tspan><tspan x="378" dy="15.2">+ clientId()</tspan><tspan x="378" dy="15.2">+ refId()</tspan><tspan x="378" dy="15.2">+ objId()</tspan><tspan x="378" dy="15.2">+ alphanumeric()</tspan><tspan x="378" dy="15.2">and 14 more...</tspan></text></g>

<g id="n_Table"><rect class="b" x="756" y="1265" width="145" height="92.8"/><path class="s" d="M756,1305.4 h145 M756,1319.4 h145"/><text class="t" x="828.5" y="1281"><tspan x="828.5" dy="0">ILIAS\UI\Component</tspan><tspan x="828.5" dy="15.2">\Table\Table</tspan></text><text x="764" y="1333.4"><tspan x="764" dy="0">+ withTitle()</tspan><tspan x="764" dy="15.2">+ getTitle()</tspan></text></g>

<g id="n_ilComponentRepository"><rect class="b" x="2663" y="512" width="232" height="244.8"/><path class="s" d="M2663,537.2 h232 M2663,551.2 h232"/><text class="t" x="2779" y="528">ilComponentRepository</text><text x="2671" y="565.2"><tspan x="2671" dy="0">+ hasComponent()</tspan><tspan x="2671" dy="15.2">+ hasComponentId()</tspan><tspan x="2671" dy="15.2">+ getComponents()</tspan><tspan x="2671" dy="15.2">+ getComponentById()</tspan><tspan x="2671" dy="15.2">+ getComponentByTypeAndName()</tspan><tspan x="2671" dy="15.2">+ hasPluginSlotId()</tspan><tspan x="2671" dy="15.2">+ getPluginSlots()</tspan><tspan x="2671" dy="15.2">+ getPluginSlotById()</tspan><tspan x="2671" dy="15.2">+ hasPluginId()</tspan><tspan x="2671" dy="15.2">+ getPlugins()</tspan><tspan x="2671" dy="15.2">+ getPluginById()</tspan><tspan x="2671" dy="15.2">+ getPluginByName()</tspan><tspan x="2671" dy="15.2">+ hasActivatedPlugin()</tspan></text></g>

<g id="n_ilComponentFactory"><rect class="b" x="2465" y="593" width="168" height="77.6"/><path class="s" d="M2465,618.2 h168 M2465,632.2 h168"/><text class="t" x="2549" y="609">ilComponentFactory</text><text x="2473" y="646.2"><tspan x="2473" dy="0">+ getPlugin()</tspan><tspan x="2473" dy="15.2">+ getActivePluginsInSlot()</tspan></text></g>

<g id="n_ilArtifactEventHandlingData"><rect class="b" x="2919" y="570" width="183" height="123.2"/><path class="s" d="M2919,595.2 h183 M2919,609.2 h183"/><text class="t" x="3010.5" y="586">ilArtifactEventHandlingData</text><text x="2927" y="623.2"><tspan x="2927" dy="0">+ __construct()</tspan><tspan x="2927" dy="15.2">+ hasEvent()</tspan><tspan x="2927" dy="15.2">+ getEvent()</tspan><tspan x="2927" dy="15.2">+ getEventsByType()</tspan><tspan x="2927" dy="15.2"># readEventHandlingData()</tspan></text></g>

<g id="n_ilCronDeleteInactiveUserReminderMail"><rect class="b" x="2341" y="848" width="212" height="184"/><path class="s" d="M2341,888.4 h212 M2341,902.4 h212"/><text class="t" x="2447" y="864"><tspan x="2447" dy="0">ilCronDeleteInactiveUser</tspan><tspan x="2447" dy="15.2">ReminderMail</tspan></text><text x="2349" y="916.4"><tspan x="2349" dy="0">+ __construct()</tspan><tspan x="2349" dy="15.2">+ removeEntriesFromTableIf</tspan><tspan x="2349" dy="15.2">LastLoginIsNewer()</tspan><tspan x="2349" dy="15.2">+ sendReminderMailIfNeeded()</tspan><tspan x="2349" dy="15.2">+ flushDataTable()</tspan><tspan x="2349" dy="15.2">+ removeSingleUserFromTable()</tspan><tspan x="2349" dy="15.2">- persistMailSent()</tspan><tspan x="2349" dy="15.2">- sendReminder()</tspan></text></g>

<g id="n_ilTreeImplementation"><rect class="b" x="2001" y="1207" width="179" height="214.4"/><path class="s" d="M2001,1232.2 h179 M2001,1246.2 h179"/><text class="t" x="2090.5" y="1223">ilTreeImplementation</text><text x="2009" y="1260.2"><tspan x="2009" dy="0">+ getSubTreeIds()</tspan><tspan x="2009" dy="15.2">+ getSubTreeQuery()</tspan><tspan x="2009" dy="15.2">+ getTrashSubTreeQuery()</tspan><tspan x="2009" dy="15.2">+ getRelation()</tspan><tspan x="2009" dy="15.2">+ getPathIds()</tspan><tspan x="2009" dy="15.2">+ insertNode()</tspan><tspan x="2009" dy="15.2">+ deleteTree()</tspan><tspan x="2009" dy="15.2">+ moveToTrash()</tspan><tspan x="2009" dy="15.2">+ moveTree()</tspan><tspan x="2009" dy="15.2">+ getSubtreeInfo()</tspan><tspan x="2009" dy="15.2">+ validateParentRelations()</tspan></text></g>

<g id="n_ilAppEventHandler"><rect class="b" x="2836" y="1265" width="130" height="92.8"/><path class="s" d="M2836,1290.2 h130 M2836,1304.2 h130"/><text class="t" x="2901" y="1281">ilAppEventHandler</text><text x="2844" y="1318.2"><tspan x="2844" dy="0">+ __construct()</tspan><tspan x="2844" dy="15.2">+ raise()</tspan><tspan x="2844" dy="15.2"># initListeners()</tspan></text></g>

<g id="n_ilTree"><rect class="b" x="2359" y="1897" width="224" height="390.8"/><path class="s" d="M2359,1922.2 h224 M2359,1945.4 h224"/><text class="t" x="2471" y="1913">ilTree</text><text x="2367" y="1936.2"># DEFAULT_GAP</text><text x="2367" y="1959.4"><tspan x="2367" dy="0">+ __construct()</tspan><tspan x="2367" dy="15.2">+ initTreeImplementation()</tspan><tspan x="2367" dy="15.2">+ getTreeImplementation()</tspan><tspan x="2367" dy="15.2">+ useCache()</tspan><tspan x="2367" dy="15.2">+ getDepthCache()</tspan><tspan x="2367" dy="15.2">+ getParentCache()</tspan><tspan x="2367" dy="15.2">+ initLangCode()</tspan><tspan x="2367" dy="15.2">+ getTreeTable()</tspan><tspan x="2367" dy="15.2">+ getObjectDataTable()</tspan><tspan x="2367" dy="15.2">+ getTreePk()</tspan><tspan x="2367" dy="15.2">and 60 more...</tspan><tspan x="2367" dy="15.2">+ lookupTreesForNode()</tspan><tspan x="2367" dy="15.2">+ _removeEntry()</tspan><tspan x="2367" dy="15.2"># isCacheUsed()</tspan><tspan x="2367" dy="15.2"># resetInTreeCache()</tspan><tspan x="2367" dy="15.2"># fetchTranslationFromObject</tspan><tspan x="2367" dy="15.2">DataCache()</tspan><tspan x="2367" dy="15.2"># __renumber()</tspan><tspan x="2367" dy="15.2"># __checkDelete()</tspan><tspan x="2367" dy="15.2"># __getSubTreeByParentRelation()</tspan><tspan x="2367" dy="15.2"># __validateSubtrees()</tspan><tspan x="2367" dy="15.2"># isRepositoryTree()</tspan></text></g>

<g id="n_ilRbacAdmin"><rect class="b" x="1535" y="1963" width="190" height="244.8"/><path class="s" d="M1535,1988.2 h190 M1535,2002.2 h190"/><text class="t" x="1630" y="1979">ilRbacAdmin</text><text x="1543" y="2016.2"><tspan x="1543" dy="0">+ __construct()</tspan><tspan x="1543" dy="15.2">+ setBlockedStatus()</tspan><tspan x="1543" dy="15.2">+ removeUser()</tspan><tspan x="1543" dy="15.2">+ deleteRole()</tspan><tspan x="1543" dy="15.2">+ deleteTemplate()</tspan><tspan x="1543" dy="15.2">+ deleteLocalRole()</tspan><tspan x="1543" dy="15.2">+ assignUserLimited()</tspan><tspan x="1543" dy="15.2">+ assignUser()</tspan><tspan x="1543" dy="15.2">+ deassignUser()</tspan><tspan x="1543" dy="15.2">+ grantPermission()</tspan><tspan x="1543" dy="15.2">and 18 more...</tspan><tspan x="1543" dy="15.2"># applyMovedObjectDidactic</tspan><tspan x="1543" dy="15.2">Templates()</tspan></text></g>

<g id="n_ilObjectDefinition"><rect class="b" x="3556" y="1147" width="220" height="320.8"/><path class="s" d="M3556,1172.2 h220 M3556,1186.2 h220"/><text class="t" x="3666" y="1163">ilObjectDefinition</text><text x="3564" y="1200.2"><tspan x="3564" dy="0">+ __construct()</tspan><tspan x="3564" dy="15.2">+ readDefinitionData()</tspan><tspan x="3564" dy="15.2">+ getClassName()</tspan><tspan x="3564" dy="15.2">+ getLocation()</tspan><tspan x="3564" dy="15.2">+ getGroup()</tspan><tspan x="3564" dy="15.2">+ getGroupOfObj()</tspan><tspan x="3564" dy="15.2">+ hasCheckbox()</tspan><tspan x="3564" dy="15.2">+ getTranslationType()</tspan><tspan x="3564" dy="15.2">+ stopInheritance()</tspan><tspan x="3564" dy="15.2">+ getDevMode()</tspan><tspan x="3564" dy="15.2">and 38 more...</tspan><tspan x="3564" dy="15.2">+ getRepositoryObjectTypes</tspan><tspan x="3564" dy="15.2">ForComponent()</tspan><tspan x="3564" dy="15.2">+ getComponentForType()</tspan><tspan x="3564" dy="15.2">+ getGroupedRepositoryObject</tspan><tspan x="3564" dy="15.2">Types()</tspan><tspan x="3564" dy="15.2"># readPluginData()</tspan><tspan x="3564" dy="15.2"># parsePluginData()</tspan><tspan x="3564" dy="15.2"># getGroupedPluginObjectTypes()</tspan></text></g>

<g id="n_Subject"><rect class="b" x="3832" y="570" width="160" height="123.2"/><path class="s" d="M3832,610.4 h160 M3832,624.4 h160"/><text class="t" x="3912" y="586"><tspan x="3912" dy="0">ILIAS\ResourceStorage</tspan><tspan x="3912" dy="15.2">\Events\Subject</tspan></text><text x="3840" y="638.4"><tspan x="3840" dy="0">+ __construct()</tspan><tspan x="3840" dy="15.2">+ attach()</tspan><tspan x="3840" dy="15.2">+ detach()</tspan><tspan x="3840" dy="15.2"># initObserverGroup()</tspan></text></g>

<g id="n_Collections"><rect class="b" x="4016" y="512" width="183" height="244.8"/><path class="s" d="M4016,567.6 h183 M4016,581.6 h183"/><text class="t" x="4107.5" y="528"><tspan x="4107.5" dy="0">ILIAS\Export\ImportHandler</tspan><tspan x="4107.5" dy="15.2">\Parser\NodeInfo\Collection</tspan><tspan x="4107.5" dy="15.2">\Collections</tspan></text><text x="4024" y="595.6"><tspan x="4024" dy="0">+ __construct()</tspan><tspan x="4024" dy="15.2">+ id()</tspan><tspan x="4024" dy="15.2">+ exists()</tspan><tspan x="4024" dy="15.2">+ idOrNull()</tspan><tspan x="4024" dy="15.2">+ get()</tspan><tspan x="4024" dy="15.2">+ store()</tspan><tspan x="4024" dy="15.2">+ clone()</tspan><tspan x="4024" dy="15.2">+ remove()</tspan><tspan x="4024" dy="15.2">+ rangeAsArray()</tspan><tspan x="4024" dy="15.2">+ rangeAsGenerator()</tspan><tspan x="4024" dy="15.2">+ sort()</tspan></text></g>

<g id="n_Consumers"><rect class="b" x="4223" y="526" width="161" height="214.4"/><path class="s" d="M4223,566.4 h161 M4223,580.4 h161"/><text class="t" x="4303.5" y="542"><tspan x="4303.5" dy="0">ILIAS\LegalDocuments</tspan><tspan x="4303.5" dy="15.2">\Consumer\Consumers</tspan></text><text x="4231" y="594.4"><tspan x="4231" dy="0">+ __construct()</tspan><tspan x="4231" dy="15.2">+ download()</tspan><tspan x="4231" dy="15.2">+ inline()</tspan><tspan x="4231" dy="15.2">+ stream()</tspan><tspan x="4231" dy="15.2">+ src()</tspan><tspan x="4231" dy="15.2">+ downloadCollection()</tspan><tspan x="4231" dy="15.2">+ downloadResources()</tspan><tspan x="4231" dy="15.2">+ flavourUrls()</tspan><tspan x="4231" dy="15.2">+ containerZIP()</tspan><tspan x="4231" dy="15.2">+ containerURI()</tspan></text></g>

<g id="n_Manager"><rect class="b" x="4409" y="585" width="160" height="92.8"/><path class="s" d="M4409,625.4 h160 M4409,639.4 h160"/><text class="t" x="4489" y="601"><tspan x="4489" dy="0">ILIAS\ResourceStorage</tspan><tspan x="4489" dy="15.2">\Manager\Manager</tspan></text><text x="4417" y="653.4"><tspan x="4417" dy="0">+ upload()</tspan><tspan x="4417" dy="15.2">+ stream()</tspan></text></g>

<g id="n_ContainerManager"><rect class="b" x="4592" y="548" width="223" height="168.8"/><path class="s" d="M4592,588.4 h223 M4592,602.4 h223"/><text class="t" x="4703.5" y="564"><tspan x="4703.5" dy="0">ILIAS\ResourceStorage</tspan><tspan x="4703.5" dy="15.2">\Manager\ContainerManager</tspan></text><text x="4600" y="616.4"><tspan x="4600" dy="0">+ containerFromUpload()</tspan><tspan x="4600" dy="15.2">+ containerFromStream()</tspan><tspan x="4600" dy="15.2">+ createDirectoryInsideContainer()</tspan><tspan x="4600" dy="15.2">+ removePathInsideContainer()</tspan><tspan x="4600" dy="15.2">+ addUploadToContainer()</tspan><tspan x="4600" dy="15.2">+ addStreamToContainer()</tspan><tspan x="4600" dy="15.2"># normalizePath()</tspan></text></g>

<g id="n_ilSetting"><rect class="b" x="4837" y="505" width="156" height="260"/><path class="s" d="M4837,530.2 h156 M4837,544.2 h156"/><text class="t" x="4915" y="521">ilSetting</text><text x="4845" y="558.2"><tspan x="4845" dy="0">+ __construct()</tspan><tspan x="4845" dy="15.2">+ getModule()</tspan><tspan x="4845" dy="15.2">+ read()</tspan><tspan x="4845" dy="15.2">+ get()</tspan><tspan x="4845" dy="15.2">+ deleteAll()</tspan><tspan x="4845" dy="15.2">+ deleteLike()</tspan><tspan x="4845" dy="15.2">+ delete()</tspan><tspan x="4845" dy="15.2">+ getAll()</tspan><tspan x="4845" dy="15.2">+ set()</tspan><tspan x="4845" dy="15.2">+ setScormDebug()</tspan><tspan x="4845" dy="15.2">+ _lookupValue()</tspan><tspan x="4845" dy="15.2">+ _getValueType()</tspan><tspan x="4845" dy="15.2">+ _changeValueType()</tspan><tspan x="4845" dy="15.2">+ _getLongerSettings()</tspan></text></g>

<g id="n_RepositoryPreloader"><rect class="b" x="5184" y="592" width="203" height="77.6"/><path class="s" d="M5184,632.4 h203 M5184,646.4 h203"/><text class="t" x="5285.5" y="608"><tspan x="5285.5" dy="0">ILIAS\ResourceStorage</tspan><tspan x="5285.5" dy="15.2">\Preloader\RepositoryPreloader</tspan></text><text x="5192" y="660.4">+ preload()</text></g>

<g id="n_Flavours"><rect class="b" x="5410" y="557" width="160" height="153.6"/><path class="s" d="M5410,597.4 h160 M5410,611.4 h160"/><text class="t" x="5490" y="573"><tspan x="5490" dy="0">ILIAS\ResourceStorage</tspan><tspan x="5490" dy="15.2">\Flavour\Flavours</tspan></text><text x="5418" y="625.4"><tspan x="5418" dy="0">+ __construct()</tspan><tspan x="5418" dy="15.2">+ get()</tspan><tspan x="5418" dy="15.2">+ ensure()</tspan><tspan x="5418" dy="15.2">+ has()</tspan><tspan x="5418" dy="15.2">+ remove()</tspan><tspan x="5418" dy="15.2">+ possible()</tspan></text></g>

<g id="n_ilErrorHandling"><rect class="b" x="6215" y="482" width="206" height="305.6"/><path class="s" d="M6215,507.2 h206 M6215,521.2 h206"/><text class="t" x="6318" y="498">ilErrorHandling</text><text x="6223" y="535.2"><tspan x="6223" dy="0">+ __construct()</tspan><tspan x="6223" dy="15.2">+ getHandler()</tspan><tspan x="6223" dy="15.2">+ raiseError()</tspan><tspan x="6223" dy="15.2">+ getMessage()</tspan><tspan x="6223" dy="15.2">+ setMessage()</tspan><tspan x="6223" dy="15.2">+ appendMessage()</tspan><tspan x="6223" dy="15.2">+ handlePreWhoops()</tspan><tspan x="6223" dy="15.2"># initWhoopsHandlers()</tspan><tspan x="6223" dy="15.2"># getRunTime()</tspan><tspan x="6223" dy="15.2"># getWhoops()</tspan><tspan x="6223" dy="15.2"># isDevmodeActive()</tspan><tspan x="6223" dy="15.2"># defaultHandler()</tspan><tspan x="6223" dy="15.2"># devmodeHandler()</tspan><tspan x="6223" dy="15.2"># addEditorSupport()</tspan><tspan x="6223" dy="15.2"># applyEditorPathTranslations()</tspan><tspan x="6223" dy="15.2"># parseEditorPathTranslation()</tspan><tspan x="6223" dy="15.2">- errorHandler()</tspan></text></g>

<g id="n_ILIAS"><rect class="b" x="5952" y="1198" width="140" height="238.8"/><path class="s" d="M5952,1223.2 h140 M5952,1307.2 h140"/><text class="t" x="6022" y="1214">ILIAS</text><text x="5960" y="1237.2"><tspan x="5960" dy="0">+ $account</tspan><tspan x="5960" dy="15.2">+ $ini</tspan><tspan x="5960" dy="15.2">+ $ini_ilias</tspan><tspan x="5960" dy="15.2">+ $db</tspan><tspan x="5960" dy="15.2">+ $error_obj</tspan></text><text x="5960" y="1321.2"><tspan x="5960" dy="0">+ __construct()</tspan><tspan x="5960" dy="15.2">+ getSetting()</tspan><tspan x="5960" dy="15.2">+ deleteSetting()</tspan><tspan x="5960" dy="15.2">+ getAllSettings()</tspan><tspan x="5960" dy="15.2">+ setSetting()</tspan><tspan x="5960" dy="15.2">+ getClientId()</tspan><tspan x="5960" dy="15.2">+ raiseError()</tspan><tspan x="5960" dy="15.2"># getSettingObject()</tspan></text></g>

<g id="n_Request"><rect class="b" x="6645" y="1266" width="155" height="92.8"/><path class="s" d="M6645,1306.4 h155 M6645,1320.4 h155"/><text class="t" x="6722.5" y="1282"><tspan x="6722.5" dy="0">ILIAS\Cache\Container</tspan><tspan x="6722.5" dy="15.2">\Request</tspan></text><text x="6653" y="1334.4"><tspan x="6653" dy="0">+ getContainerKey()</tspan><tspan x="6653" dy="15.2">+ isForced()</tspan></text></g>

<g id="n_ilCachedLanguage"><rect class="b" x="6397" y="1941" width="143" height="290.4"/><path class="s" d="M6397,1966.2 h143 M6397,1980.2 h143"/><text class="t" x="6468.5" y="1957">ilCachedLanguage</text><text x="6405" y="1994.2"><tspan x="6405" dy="0">+ getContainerKey()</tspan><tspan x="6405" dy="15.2">+ isForced()</tspan><tspan x="6405" dy="15.2">+ isActive()</tspan><tspan x="6405" dy="15.2">+ writeToCache()</tspan><tspan x="6405" dy="15.2">+ deleteInCache()</tspan><tspan x="6405" dy="15.2">+ flush()</tspan><tspan x="6405" dy="15.2">+ setLanguageKey()</tspan><tspan x="6405" dy="15.2">+ getLanguageKey()</tspan><tspan x="6405" dy="15.2">+ setLoaded()</tspan><tspan x="6405" dy="15.2">+ getLoaded()</tspan><tspan x="6405" dy="15.2">+ setTranslations()</tspan><tspan x="6405" dy="15.2">+ getTranslations()</tspan><tspan x="6405" dy="15.2">+ getInstance()</tspan><tspan x="6405" dy="15.2"># __construct()</tspan><tspan x="6405" dy="15.2"># readFromCache()</tspan><tspan x="6405" dy="15.2"># readFromDB()</tspan></text></g>

<g id="n_Language"><rect class="b" x="5930" y="2027" width="176" height="108"/><path class="s" d="M5930,2052.2 h176 M5930,2066.2 h176"/><text class="t" x="6018" y="2043">ILIAS\Language\Language</text><text x="5938" y="2080.2"><tspan x="5938" dy="0">+ txt()</tspan><tspan x="5938" dy="15.2">+ loadLanguageModule()</tspan><tspan x="5938" dy="15.2">+ getLangKey()</tspan><tspan x="5938" dy="15.2">+ toJS()</tspan></text></g>

<g id="n_ilLanguage"><rect class="b" x="6064" y="2533" width="181" height="320.8"/><path class="s" d="M6064,2558.2 h181 M6064,2572.2 h181"/><text class="t" x="6154.5" y="2549">ilLanguage</text><text x="6072" y="2586.2"><tspan x="6072" dy="0">+ __construct()</tspan><tspan x="6072" dy="15.2">+ getLangKey()</tspan><tspan x="6072" dy="15.2">+ getDefaultLanguage()</tspan><tspan x="6072" dy="15.2">+ getTextDirection()</tspan><tspan x="6072" dy="15.2">+ getContentLanguage()</tspan><tspan x="6072" dy="15.2">+ txtlng()</tspan><tspan x="6072" dy="15.2">+ txt()</tspan><tspan x="6072" dy="15.2">+ exists()</tspan><tspan x="6072" dy="15.2">+ loadLanguageModule()</tspan><tspan x="6072" dy="15.2">+ getInstalledLanguages()</tspan><tspan x="6072" dy="15.2">and 7 more...</tspan><tspan x="6072" dy="15.2">+ _getInstalledLanguages()</tspan><tspan x="6072" dy="15.2">+ _lookupEntry()</tspan><tspan x="6072" dy="15.2">+ lookupId()</tspan><tspan x="6072" dy="15.2">+ getFallbackInstance()</tspan><tspan x="6072" dy="15.2">+ getGlobalInstance()</tspan><tspan x="6072" dy="15.2"># logUsage()</tspan><tspan x="6072" dy="15.2"># isUsageLogEnabled()</tspan></text></g>

<g id="n_Properties"><rect class="b" x="7428" y="2563" width="236" height="260"/><path class="s" d="M7428,2603.4 h236 M7428,2617.4 h236"/><text class="t" x="7546" y="2579"><tspan x="7546" dy="0">ILIAS\ILIASObject\Properties</tspan><tspan x="7546" dy="15.2">\Properties</tspan></text><text x="7436" y="2631.4"><tspan x="7436" dy="0">+ __construct()</tspan><tspan x="7436" dy="15.2">+ storeCoreProperties()</tspan><tspan x="7436" dy="15.2">+ getOwner()</tspan><tspan x="7436" dy="15.2">+ withOwner()</tspan><tspan x="7436" dy="15.2">+ getImportId()</tspan><tspan x="7436" dy="15.2">+ withImportId()</tspan><tspan x="7436" dy="15.2">+ getPropertyTitleAndDescription()</tspan><tspan x="7436" dy="15.2">+ withPropertyTitleAndDescription()</tspan><tspan x="7436" dy="15.2">+ storePropertyTitleAndDescription()</tspan><tspan x="7436" dy="15.2">+ getPropertyIsOnline()</tspan><tspan x="7436" dy="15.2">and 16 more...</tspan><tspan x="7436" dy="15.2">- updateMetadataForTitleAnd</tspan><tspan x="7436" dy="15.2">Description()</tspan></text></g>

<g id="n_Aggregator"><rect class="b" x="7688" y="2638" width="194" height="108"/><path class="s" d="M7688,2678.4 h194 M7688,2692.4 h194"/><text class="t" x="7785" y="2654"><tspan x="7785" dy="0">ILIAS\ILIASObject\Properties</tspan><tspan x="7785" dy="15.2">\Aggregator</tspan></text><text x="7696" y="2706.4"><tspan x="7696" dy="0">+ __construct()</tspan><tspan x="7696" dy="15.2">+ getFor()</tspan><tspan x="7696" dy="15.2">+ preload()</tspan></text></g>

<g id="n_Services"><rect class="b" x="4454" y="1220" width="161" height="184"/><path class="s" d="M4454,1260.4 h161 M4454,1274.4 h161"/><text class="t" x="4534.5" y="1236"><tspan x="4534.5" dy="0">ILIAS\ResourceStorage</tspan><tspan x="4534.5" dy="15.2">\Services</tspan></text><text x="4462" y="1288.4"><tspan x="4462" dy="0">+ __construct()</tspan><tspan x="4462" dy="15.2">+ manage()</tspan><tspan x="4462" dy="15.2">+ manageContainer()</tspan><tspan x="4462" dy="15.2">+ consume()</tspan><tspan x="4462" dy="15.2">+ collection()</tspan><tspan x="4462" dy="15.2">+ flavours()</tspan><tspan x="4462" dy="15.2">+ preload()</tspan><tspan x="4462" dy="15.2">+ events()</tspan></text></g>

<g id="n_ilObjUser"><rect class="b" x="3883" y="1705" width="200" height="603.6"/><path class="s" d="M3883,1730.2 h200 M3883,2072.6 h200"/><text class="t" x="3983" y="1721">ilObjUser</text><text x="3891" y="1744.2"><tspan x="3891" dy="0">+ $login</tspan><tspan x="3891" dy="15.2">+ $gender</tspan><tspan x="3891" dy="15.2">+ $utitle</tspan><tspan x="3891" dy="15.2">+ $firstname</tspan><tspan x="3891" dy="15.2">+ $lastname</tspan><tspan x="3891" dy="15.2">+ $fullname</tspan><tspan x="3891" dy="15.2">+ $department</tspan><tspan x="3891" dy="15.2">+ $street</tspan><tspan x="3891" dy="15.2">+ $city</tspan><tspan x="3891" dy="15.2">+ $country</tspan><tspan x="3891" dy="15.2">and 12 more...</tspan><tspan x="3891" dy="15.2"># $time_limit_message</tspan><tspan x="3891" dy="15.2"># $last_login</tspan><tspan x="3891" dy="15.2"># $passwd</tspan><tspan x="3891" dy="15.2"># $password_encoding_type</tspan><tspan x="3891" dy="15.2"># $password_salt</tspan><tspan x="3891" dy="15.2"># $birthday</tspan><tspan x="3891" dy="15.2"># $second_email</tspan><tspan x="3891" dy="15.2"># $inactivation_date</tspan><tspan x="3891" dy="15.2"># $org_units</tspan><tspan x="3891" dy="15.2"># $last_profile_prompt</tspan><tspan x="3891" dy="15.2"># $avatar_rid</tspan></text><text x="3891" y="2086.6"><tspan x="3891" dy="0">+ __construct()</tspan><tspan x="3891" dy="15.2">+ read()</tspan><tspan x="3891" dy="15.2">+ getPasswordEncodingType()</tspan><tspan x="3891" dy="15.2">+ setPasswordEncodingType()</tspan><tspan x="3891" dy="15.2">+ getPasswordSalt()</tspan><tspan x="3891" dy="15.2">+ setPasswordSalt()</tspan><tspan x="3891" dy="15.2">+ assignData()</tspan><tspan x="3891" dy="15.2">+ saveAsNew()</tspan><tspan x="3891" dy="15.2">+ update()</tspan><tspan x="3891" dy="15.2">+ writeAccepted()</tspan><tspan x="3891" dy="15.2">and 169 more...</tspan><tspan x="3891" dy="15.2">+ _lookupFullname()</tspan><tspan x="3891" dy="15.2">+ _lookupEmail()</tspan><tspan x="3891" dy="15.2">+ _lookupGender()</tspan><tspan x="3891" dy="15.2">+ _lookupClientIP()</tspan></text></g>

<g id="n_ilObject"><rect class="b" x="3578" y="2920" width="227" height="624.8"/><path class="s" d="M3578,2945.2 h227 M3578,2959.2 h227"/><text class="t" x="3691.5" y="2936">ilObject</text><text x="3586" y="2973.2"><tspan x="3586" dy="0">+ getObjectProperties()</tspan><tspan x="3586" dy="15.2">+ flushObjectProperties()</tspan><tspan x="3586" dy="15.2">+ withReferences()</tspan><tspan x="3586" dy="15.2">+ processAutoRating()</tspan><tspan x="3586" dy="15.2">+ read()</tspan><tspan x="3586" dy="15.2">+ getId()</tspan><tspan x="3586" dy="15.2">+ setId()</tspan><tspan x="3586" dy="15.2">+ setRefId()</tspan><tspan x="3586" dy="15.2">+ getRefId()</tspan><tspan x="3586" dy="15.2">+ getType()</tspan><tspan x="3586" dy="15.2">and 40 more...</tspan><tspan x="3586" dy="15.2">+ _lookupObjIdByImportId()</tspan><tspan x="3586" dy="15.2">+ _lookupImportId()</tspan><tspan x="3586" dy="15.2">+ _lookupOwnerName()</tspan><tspan x="3586" dy="15.2">+ _getIdForImportId()</tspan><tspan x="3586" dy="15.2">+ _getAllReferences()</tspan><tspan x="3586" dy="15.2">+ _lookupTitle()</tspan><tspan x="3586" dy="15.2">+ lookupOfflineStatus()</tspan><tspan x="3586" dy="15.2">+ _lookupOwner()</tspan><tspan x="3586" dy="15.2">+ _getIdsForTitle()</tspan><tspan x="3586" dy="15.2">+ _lookupDescription()</tspan><tspan x="3586" dy="15.2">and 27 more...</tspan><tspan x="3586" dy="15.2"># doMDUpdateListener()</tspan><tspan x="3586" dy="15.2"># beforeMDUpdateListener()</tspan><tspan x="3586" dy="15.2"># doCreateMetaData()</tspan><tspan x="3586" dy="15.2"># beforeCreateMetaData()</tspan><tspan x="3586" dy="15.2"># doUpdateMetaData()</tspan><tspan x="3586" dy="15.2"># beforeUpdateMetaData()</tspan><tspan x="3586" dy="15.2"># doDeleteMetaData()</tspan><tspan x="3586" dy="15.2"># beforeDeleteMetaData()</tspan><tspan x="3586" dy="15.2"># handleAutoRating()</tspan><tspan x="3586" dy="15.2"># hasAutoRating()</tspan><tspan x="3586" dy="15.2">- appendCopyInfoToTranslations()</tspan><tspan x="3586" dy="15.2">- getCallbackForTitlesPerLanguage</tspan><tspan x="3586" dy="15.2">Transformation()</tspan><tspan x="3586" dy="15.2">- appendNumberOfCopiesToTitle()</tspan><tspan x="3586" dy="15.2">- isTitleUnique()</tspan><tspan x="3586" dy="15.2">- buildTitleWithoutCopySuffix()</tspan></text></g>

<g id="n_Ordering"><rect class="b" x="413" y="2005" width="217" height="153.6"/><path class="s" d="M413,2045.4 h217 M413,2059.4 h217"/><text class="t" x="521.5" y="2021"><tspan x="521.5" dy="0">ILIAS\UI\Component</tspan><tspan x="521.5" dy="15.2">\Table\Ordering</tspan></text><text x="421" y="2073.4"><tspan x="421" dy="0">+ withActions()</tspan><tspan x="421" dy="15.2">+ withRequest()</tspan><tspan x="421" dy="15.2">+ getData()</tspan><tspan x="421" dy="15.2">+ withOrderingDisabled()</tspan><tspan x="421" dy="15.2">+ withSelectedOptionalColumns()</tspan><tspan x="421" dy="15.2">+ withId()</tspan></text></g>

<g id="n_OrderingRetrieval"><rect class="b" x="655" y="2046" width="162" height="77.6"/><path class="s" d="M655,2086.4 h162 M655,2100.4 h162"/><text class="t" x="736" y="2062"><tspan x="736" dy="0">ILIAS\UI\Component</tspan><tspan x="736" dy="15.2">\Table\OrderingRetrieval</tspan></text><text x="663" y="2114.4">+ getRows()</text></g>

<g id="n_Renderer"><rect class="b" x="975" y="2046" width="130" height="77.6"/><path class="s" d="M975,2071.2 h130 M975,2085.2 h130"/><text class="t" x="1040" y="2062">ILIAS\UI\Renderer</text><text x="983" y="2099.2"><tspan x="983" dy="0">+ render()</tspan><tspan x="983" dy="15.2">+ renderAsync()</tspan></text></g>

<g id="n_DocumentTable"><rect x="819" y="2602" width="154" height="184" fill="#bfbfbf" stroke="#000" stroke-width="1.3"/><path class="s" d="M819,2642.4 h154 M819,2656.4 h154"/><text class="t" x="896" y="2618"><tspan x="896" dy="0">ILIAS\LegalDocuments</tspan><tspan x="896" dy="15.2">\Table\DocumentTable</tspan></text><text x="827" y="2670.4"><tspan x="827" dy="0">+ __construct()</tspan><tspan x="827" dy="15.2">+ getRows()</tspan><tspan x="827" dy="15.2">- criterionName()</tspan><tspan x="827" dy="15.2">+ getTotalRowCount()</tspan><tspan x="827" dy="15.2">+ render()</tspan><tspan x="827" dy="15.2">- buildTable()</tspan><tspan x="827" dy="15.2">- buildTableRow()</tspan><tspan x="827" dy="15.2">- buildTableActions()</tspan></text></g>
</svg>
